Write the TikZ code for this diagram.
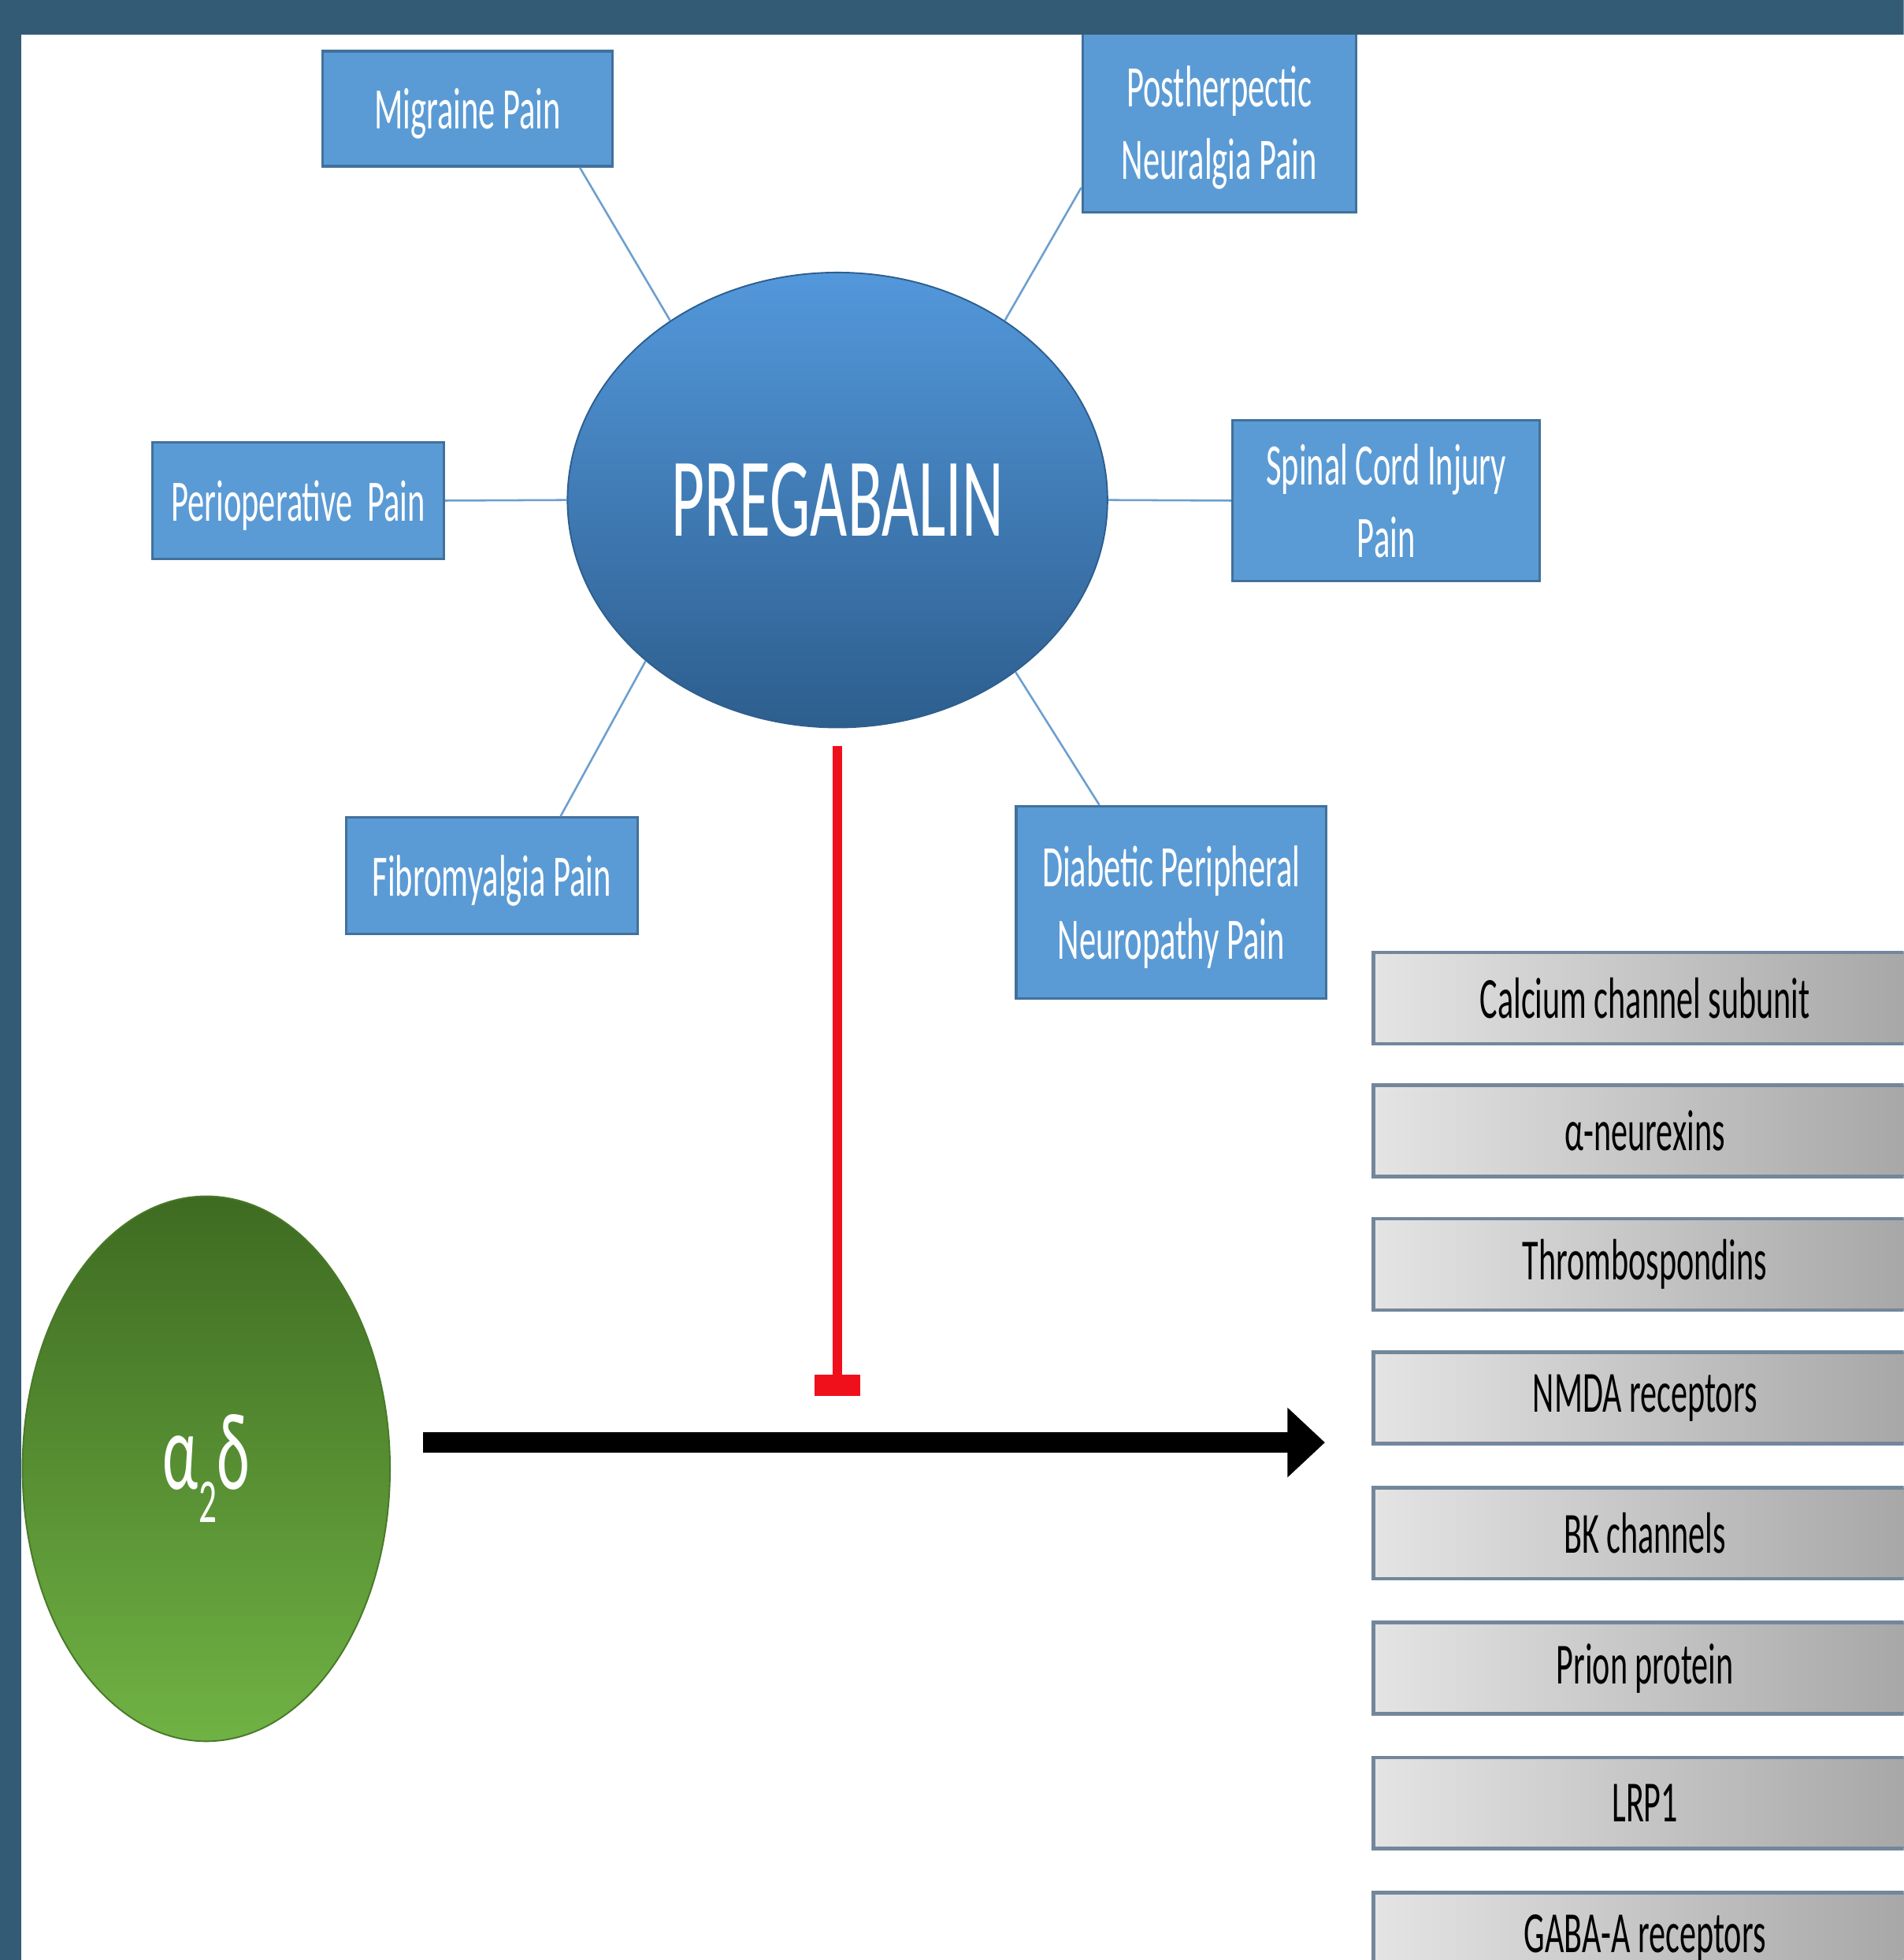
\documentclass[tikz,border=0pt]{standalone}
\usepackage{fontspec}
\newfontfamily\calfont[FakeStretch=0.57]{Carlito}
\usetikzlibrary{arrows.meta,shapes.geometric,calc}
\definecolor{frameblue}{HTML}{335B75}
\definecolor{boxblue}{HTML}{5B9BD5}
\definecolor{boxedge}{HTML}{41719C}
\definecolor{linkblue}{HTML}{6A9FCF}
\definecolor{pregtop}{HTML}{5398DB}
\definecolor{pregbot}{HTML}{2D5E8E}
\definecolor{greentop}{HTML}{3E6B21}
\definecolor{greenbot}{HTML}{70B244}
\definecolor{grayleft}{HTML}{E4E4E4}
\definecolor{grayright}{HTML}{A6A6A6}
\definecolor{grayedge}{HTML}{73879A}
\definecolor{inhibred}{HTML}{F0101C}
\tikzset{
  painbox/.style={rectangle, fill=boxblue, draw=boxedge, line width=1pt,
    text=white, align=center, inner sep=0pt, text depth=0pt,
    font=\calfont\fontsize{23.5}{29}\selectfont},
  targetbox/.style={rectangle, left color=grayleft, right color=grayright,
    draw=grayedge, line width=1.5pt, text=black, inner sep=0pt,
    minimum width=217pt, minimum height=36.5pt,
    font=\calfont\fontsize{23.3}{27}\selectfont},
  link/.style={draw=linkblue, line width=0.8pt},
}
\begin{document}
\begin{tikzpicture}[x=0.5pt,y=-0.5pt]
\useasboundingbox (0,0) rectangle (1523,1568);
\clip (0,0) rectangle (1523,1568);
\fill[white] (0,0) rectangle (1523,1568);

% pain boxes
\node[painbox, minimum width=116pt, minimum height=46pt] (mig) at (374,87) {Migraine Pain};
\node[painbox, minimum width=109.5pt, minimum height=72pt] (post) at (975.5,98) {Postherpectic\\Neuralgia Pain};
\node[painbox, minimum width=116.5pt, minimum height=46.5pt] (peri) at (238.5,400.5) {Perioperative\hspace{0.12em} Pain};
\node[painbox, minimum width=123pt, minimum height=64.5pt] (spin) at (1109,400.5) {Spinal Cord Injury\\Pain};
\node[painbox, minimum width=116.5pt, minimum height=46.5pt] (fib) at (393.5,700.5) {Fibromyalgia Pain};
\node[painbox, minimum width=124pt, minimum height=77pt] (diab) at (937,722) {Diabetic Peripheral\\Neuropathy Pain};

% central ellipse
\node[ellipse, inner sep=0pt, minimum width=216pt, minimum height=182pt,
  top color=pregtop, bottom color=pregbot, draw=pregbot, line width=0.6pt,
  text=white, font=\calfont\fontsize{45}{50}\selectfont] (preg) at (670,400) {PREGABALIN};

% connectors
\draw[link] ($(mig.south west)!0.884!(mig.south east)$) -- (preg.133);
\draw[link] ($(post.north west)!0.857!(post.south west)$) -- (preg.47.5);
\draw[link] (peri.east) -- (preg.west);
\draw[link] (preg.east) -- (spin.west);
\draw[link] ($(fib.north west)!0.734!(fib.north east)$) -- (preg.220);
\draw[link] ($(diab.north west)!0.27!(diab.north east)$) -- (preg.316);

% alpha2delta
\node[ellipse, inner sep=0pt, minimum width=147pt, minimum height=218pt,
  top color=greentop, bottom color=greenbot, draw=greentop!80!greenbot, line width=0.6pt,
  text=white, font=\calfont\fontsize{44}{48}\selectfont] (a2d) at (165,1175)
  {\raisebox{-6pt}{α\raisebox{-0.3em}{\fontsize{25}{27}\selectfont 2}δ}};

% target boxes
\node[targetbox] (t1) at (1316,798.5) {Calcium channel subunit};
\node[targetbox] (t2) at (1316,904.5) {α-neurexins};
\node[targetbox] (t3) at (1316,1011.5) {Thrombospondins};
\node[targetbox] (t4) at (1316,1118.5) {NMDA receptors};
\node[targetbox] (t5) at (1316,1226.5) {BK channels};
\node[targetbox] (t6) at (1316,1334.5) {Prion protein};
\node[targetbox] (t7) at (1316,1442.5) {LRP1};
\node[targetbox] (t8) at (1316,1550.5) {GABA-A receptors};

% inhibition
\node[rectangle, fill=inhibred, inner sep=0pt, minimum width=18.5pt, minimum height=8.5pt] (bar) at (670,1108.5) {};
\draw[inhibred, line width=4pt] ([yshift=-7pt]preg.south) -- (bar.north);

% main arrow
\coordinate (tip) at (1060,1154);
\draw[black, line width=8pt, -{Triangle[length=15pt,width=27pt]}]
  ([shift={(13pt,10.5pt)}]a2d.east) -- (tip);

% frame
\fill[frameblue] (0,0) rectangle (1523,28);
\fill[frameblue] (0,0) rectangle (17,1568);
\end{tikzpicture}
\end{document}
